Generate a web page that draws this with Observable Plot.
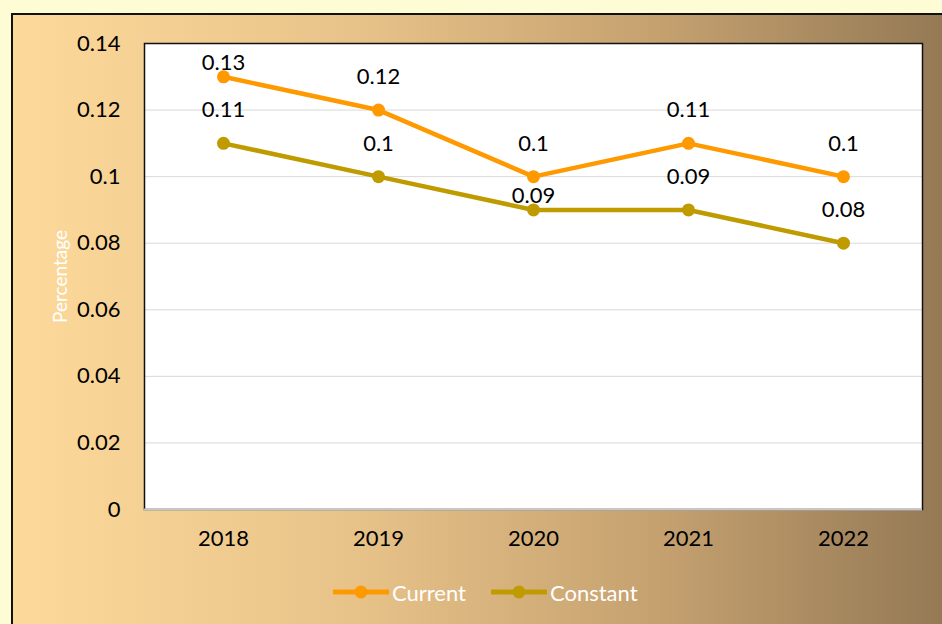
<!DOCTYPE html>
<html>
<head>
<meta charset="utf-8">
<script src="https://cdn.jsdelivr.net/npm/d3@7"></script>
<script src="https://cdn.jsdelivr.net/npm/@observablehq/plot@0.6"></script>
<style>
  html, body { margin: 0; padding: 0; }
  body { width: 942px; height: 624px; overflow: hidden; background: #fefcd4; position: relative; font-family: Lato, "Open Sans", sans-serif; }
  #box { position: absolute; left: 11px; top: 13px; right: -4px; bottom: -4px;
         border-left: 2px solid #111; border-top: 2px solid #111;
         background: linear-gradient(to right, #fdd99b 0%, #e9c48a 35%, #c4a06f 70%, #947955 100%); }
  #chart { position: absolute; left: 0; top: 0; }
  #legend { position: absolute; left: 0; top: 565px; width: 942px; height: 54px; display: flex; align-items: center; }
  .item { display: flex; align-items: center; color: #fff; font-size: 22px; }
  .item svg { margin-right: 3px; }
</style>
</head>
<body>
<div id="box"></div>
<div id="chart"></div>
<div id="legend"></div>
<script>
const years = ["2018", "2019", "2020", "2021", "2022"];
const current = [0.13, 0.12, 0.10, 0.11, 0.10];
const constant = [0.11, 0.10, 0.09, 0.09, 0.08];
const yTicks = [0, 0.02, 0.04, 0.06, 0.08, 0.10, 0.12, 0.14];
const seriesNames = ["Current", "Constant"];
const seriesColors = ["#ff9900", "#bf9b00"];

const rows = [];
years.forEach((y, i) => {
  rows.push({year: y, value: current[i], series: "Current"});
  rows.push({year: y, value: constant[i], series: "Constant"});
});
const fmt = v => String(+v.toFixed(2));
// labels that Excel nudged closer to their points to avoid collisions
const nudged = d => (d.series === "Current" && d.year === "2018") || (d.series === "Constant" && d.year === "2020");

const chart = Plot.plot({
  width: 942,
  height: 565,
  marginLeft: 144,
  marginRight: 20,
  marginTop: 43,
  marginBottom: 56,
  style: {fontFamily: "Lato, 'Open Sans', sans-serif", fontSize: "22px", color: "#000", background: "transparent", overflow: "visible"},
  x: {type: "point", domain: years, padding: 0.5, label: null, tickSize: 0, tickPadding: 21},
  y: {domain: [0, 0.14], ticks: yTicks, tickFormat: fmt, label: null, tickSize: 0, tickPadding: 24},
  color: {domain: seriesNames, range: seriesColors},
  marks: [
    Plot.frame({fill: "white", stroke: "none"}),
    Plot.gridY(yTicks.filter(t => t > 0), {stroke: "#d9d9d9", strokeOpacity: 1, strokeWidth: 1}),
    Plot.frame({stroke: "#111", strokeWidth: 1.5}),
    Plot.ruleY([0], {stroke: "#c8c8c8", strokeWidth: 2}),
    Plot.line(rows, {x: "year", y: "value", stroke: "series", strokeWidth: 4.5}),
    Plot.dot(rows, {x: "year", y: "value", fill: "series", r: 6.5}),
    Plot.text(rows.filter(d => !nudged(d)), {x: "year", y: "value", text: d => fmt(d.value), dy: -33, fill: "#000", fontSize: 22}),
    Plot.text(rows.filter(nudged), {x: "year", y: "value", text: d => fmt(d.value), dy: -14, fill: "#000", fontSize: 22}),
    Plot.text(["Percentage"], {frameAnchor: "left", textAnchor: "middle", dx: -84, rotate: -90, fill: "white", fontSize: 19}),
    Plot.axisX({tickSize: 0, tickPadding: 21, label: null, fontSize: 22}),
    Plot.axisY({ticks: yTicks, tickFormat: fmt, tickSize: 0, tickPadding: 24, label: null, fontSize: 22})
  ]
});
document.getElementById("chart").appendChild(chart);

const legend = document.getElementById("legend");
seriesNames.forEach((name, i) => {
  const item = document.createElement("div");
  item.className = "item";
  item.style.marginLeft = i === 0 ? "333px" : "25px";
  item.innerHTML = `<svg width="56" height="16"><line x1="1" y1="8" x2="55" y2="8" stroke="${seriesColors[i]}" stroke-width="5" stroke-linecap="round"/><circle cx="28" cy="8" r="6.5" fill="${seriesColors[i]}"/></svg><span>${name}</span>`;
  legend.appendChild(item);
});
</script>
</body>
</html>
